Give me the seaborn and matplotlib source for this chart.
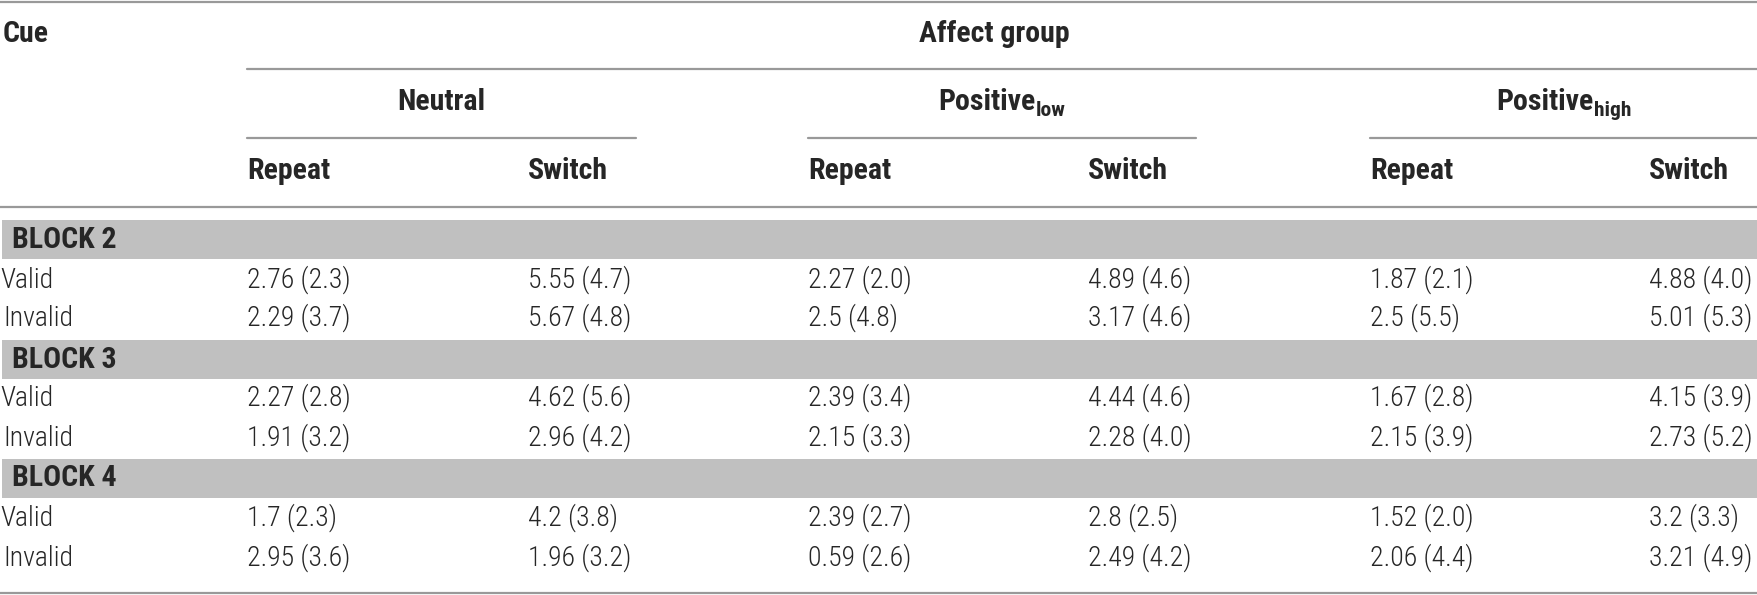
import matplotlib
matplotlib.use("Agg")
import matplotlib.pyplot as plt
from matplotlib import font_manager
import seaborn as sns
import pandas as pd

# ---------------- data ----------------
groups = ["Neutral", "Positive", "Positive"]
group_subs = ["", "low", "high"]
conditions = ["Repeat", "Switch"]
blocks = ["BLOCK 2", "BLOCK 3", "BLOCK 4"]
cues = ["Valid", "Invalid"]

neutral_repeat_mean = [2.76, 2.29, 2.27, 1.91, 1.7, 2.95]
neutral_repeat_sd = [2.3, 3.7, 2.8, 3.2, 2.3, 3.6]
neutral_switch_mean = [5.55, 5.67, 4.62, 2.96, 4.2, 1.96]
neutral_switch_sd = [4.7, 4.8, 5.6, 4.2, 3.8, 3.2]
poslow_repeat_mean = [2.27, 2.5, 2.39, 2.15, 2.39, 0.59]
poslow_repeat_sd = [2.0, 4.8, 3.4, 3.3, 2.7, 2.6]
poslow_switch_mean = [4.89, 3.17, 4.44, 2.28, 2.8, 2.49]
poslow_switch_sd = [4.6, 4.6, 4.6, 4.0, 2.5, 4.2]
poshigh_repeat_mean = [1.87, 2.5, 1.67, 2.15, 1.52, 2.06]
poshigh_repeat_sd = [2.1, 5.5, 2.8, 3.9, 2.0, 4.4]
poshigh_switch_mean = [4.88, 5.01, 4.15, 2.73, 3.2, 3.21]
poshigh_switch_sd = [4.0, 5.3, 3.9, 5.2, 3.3, 4.9]

means = [neutral_repeat_mean, neutral_switch_mean, poslow_repeat_mean,
         poslow_switch_mean, poshigh_repeat_mean, poshigh_switch_mean]
sds = [neutral_repeat_sd, neutral_switch_sd, poslow_repeat_sd,
       poslow_switch_sd, poshigh_repeat_sd, poshigh_switch_sd]

df = pd.DataFrame({f"c{j}": [f"{m:g} ({s:.1f})" for m, s in zip(means[j], sds[j])]
                   for j in range(6)})

# ---------------- style ----------------
sns.set_theme(style="white")
avail = {f.name for f in font_manager.fontManager.ttflist}
fam = None
for cand in ["Roboto Condensed", "Liberation Sans Narrow", "Open Sans Condensed",
             "Liberation Sans", "DejaVu Sans"]:
    if cand in avail:
        fam = cand
        break
plt.rcParams["font.family"] = [fam, "DejaVu Sans"]

W, H = 1758, 595
fig = plt.figure(figsize=(W / 100, H / 100), dpi=100)
ax = fig.add_axes([0, 0, 1, 1])
ax.set_xlim(0, W)
ax.set_ylim(H, 0)
ax.axis("off")

FS = 20      # body
FSH = 21.5   # headers
BAND = "#c0c0c0"
LINE = "#999999"
LW = 1.6

col_x = [247, 528, 808, 1088, 1370, 1649]
group_span = [(247, 636), (808, 1196), (1370, 1758)]

# rules
ax.plot([0, W], [1.5, 1.5], color=LINE, lw=LW)
ax.plot([247, W], [69, 69], color=LINE, lw=LW)
for a, b in group_span:
    ax.plot([a, b], [138, 138], color=LINE, lw=LW)
ax.plot([0, W], [207, 207], color=LINE, lw=LW)
ax.plot([0, W], [593, 593], color=LINE, lw=LW)

# header texts
ax.text(3, 34, "Cue", fontsize=FSH, fontweight="bold", va="center", ha="left")
ax.text(994, 34, "Affect group", fontsize=FSH, fontweight="bold", va="center", ha="center")

fig.canvas.draw()
renderer = fig.canvas.get_renderer()
for (a, b), g, sub in zip(group_span, groups, group_subs):
    t = ax.text(0, 102, g, fontsize=FSH, fontweight="bold", va="center", ha="left")
    wt = t.get_window_extent(renderer).width
    ws = 0
    s = None
    if sub:
        s = ax.text(0, 110, sub, fontsize=FSH * 0.72, fontweight="bold", va="center", ha="left")
        ws = s.get_window_extent(renderer).width
    x0 = (a + b) / 2 - (wt + ws) / 2
    t.set_x(x0)
    if s is not None:
        s.set_x(x0 + wt)

for i, x in enumerate(col_x):
    ax.text(x, 171, conditions[i % 2], fontsize=FSH, fontweight="bold", va="center", ha="left")

# body
band_tops = [220, 340, 459]
row_y = [[280, 318], [398, 438], [518, 558]]
for bi, blk in enumerate(blocks):
    ax.axhspan(band_tops[bi], band_tops[bi] + 39, xmin=2 / W, xmax=1, color=BAND, lw=0)
    ax.text(12, band_tops[bi] + 19.5, blk, fontsize=FSH, fontweight="bold", va="center", ha="left")
    for ci, cue in enumerate(cues):
        r = bi * 2 + ci
        y = row_y[bi][ci]
        ax.text(0 if ci == 0 else 3, y, cue, fontsize=FS, fontweight="light", va="center", ha="left")
        for j, x in enumerate(col_x):
            ax.text(x, y, df.iloc[r, j], fontsize=FS, fontweight="light", va="center", ha="left")

fig.savefig("out.png", dpi=100)
